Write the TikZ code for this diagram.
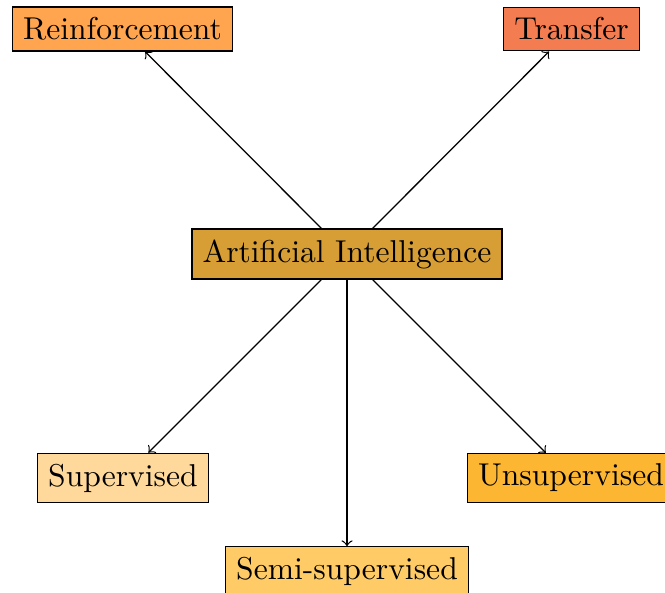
\documentclass[tikz,border=0pt]{standalone}
\usetikzlibrary{arrows}
\definecolor{reinfc}{RGB}{255,165,79}
\definecolor{transc}{RGB}{243,124,80}
\definecolor{aic}{RGB}{214,158,52}
\definecolor{supc}{RGB}{255,217,155}
\definecolor{unsupc}{RGB}{252,182,50}
\definecolor{semic}{RGB}{254,203,102}
\begin{document}
\begin{tikzpicture}[x=0.3165pt, y=-0.3165pt,
  topic/.style={draw, fill=#1, inner sep=0.3333em},
  link/.style={->}]
\clip (0,0) rectangle (665,592);
\useasboundingbox (0,0) rectangle (665,592);
\node[topic=aic] (ai) at (347,254) {Artificial Intelligence};
\node[topic=reinfc] (reinf) at (122.5,29) {Reinforcement};
\node[topic=transc] (trans) at (571.5,29) {Transfer};
\node[topic=supc] (sup) at (123,478) {Supervised};
\node[topic=unsupc] (unsup) at (571,478) {Unsupervised};
\node[topic=semic] (semi) at (347,571.5) {Semi-supervised};
\draw[link] (ai) -- (reinf);
\draw[link] (ai) -- (trans);
\draw[link] (ai) -- (sup);
\draw[link] (ai) -- (unsup);
\draw[link] (ai) -- (semi);
\end{tikzpicture}
\end{document}
